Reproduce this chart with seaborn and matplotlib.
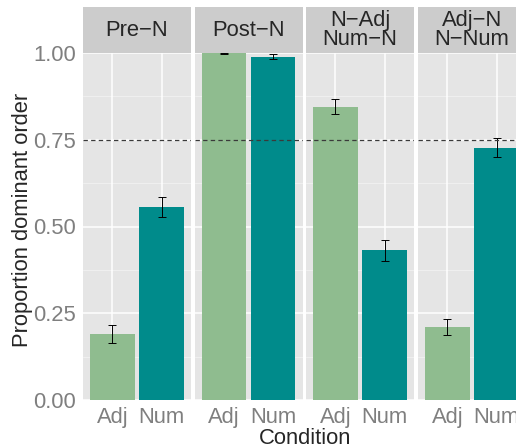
import numpy as np
import pandas as pd
import seaborn as sns
import matplotlib.pyplot as plt

conditions = ["Pre\u2212N", "Post\u2212N", "N\u2212Adj\nNum\u2212N", "Adj\u2212N\nN\u2212Num"]
types = ["Adj", "Num"]
adj_mean = [0.190, 0.999, 0.845, 0.210]
num_mean = [0.556, 0.989, 0.432, 0.727]
adj_se = [0.025, 0.001, 0.022, 0.024]
num_se = [0.030, 0.007, 0.030, 0.027]
yticks = [0.0, 0.25, 0.5, 0.75, 1.0]
ytick_labels = ["0.00", "0.25", "0.50", "0.75", "1.00"]
palette = {"Adj": "#8FBC8F", "Num": "#008B8B"}

sns.set_style("white")
plt.rcParams['font.family'] = ['Liberation Sans', 'DejaVu Sans']

W, H = 516, 446
fig = plt.figure(figsize=(W / 100, H / 100), dpi=100)

fs = 15.8
panel_left = [83, 194.5, 306, 418]
panel_w = 108
panel_bot, panel_top = 400, 53
strip_top = 7

for i, cond in enumerate(conditions):
    df = pd.DataFrame({"type": types,
                       "value": [adj_mean[i], num_mean[i]],
                       "se": [adj_se[i], num_se[i]]})
    ax = fig.add_axes([panel_left[i] / W, 1 - panel_bot / H,
                       panel_w / W, (panel_bot - panel_top) / H])
    ax.set_facecolor("#E5E5E5")
    for y in np.arange(0.125, 1.0, 0.25):
        ax.axhline(y, color="#F2F2F2", lw=0.6, zorder=0)
    for y in yticks:
        ax.axhline(y, color="white", lw=1.1, zorder=0)
    for x in range(2):
        ax.axvline(x, color="white", lw=1.1, zorder=0)

    sns.barplot(data=df, x="type", y="value", hue="type", palette=palette,
                errorbar=None, width=0.9, saturation=1, legend=False, ax=ax,
                edgecolor="none", linewidth=0, zorder=2)
    ax.errorbar(range(2), df["value"], yerr=df["se"], fmt="none",
                ecolor="black", elinewidth=0.7, capsize=2.9, capthick=0.7,
                zorder=3)
    ax.axhline(0.75, color="#3A3A3A", lw=0.9, ls=(0, (3.5, 2.6)), zorder=4)

    ax.set_xlim(-0.6, 1.6)
    ax.set_ylim(0, 1)
    ax.set_xlabel("")
    ax.set_ylabel("")
    for s in ax.spines.values():
        s.set_visible(False)
    ax.set_xticks(range(2))
    ax.set_xticklabels(types)
    ax.tick_params(axis="x", length=3.5, width=0.7, color="#7F7F7F",
                   labelcolor="#7F7F7F", labelsize=fs, pad=1.5)
    if i == 0:
        ax.set_yticks(yticks)
        ax.set_yticklabels(ytick_labels)
        ax.tick_params(axis="y", length=3.5, width=0.7, color="#7F7F7F",
                       labelcolor="#7F7F7F", labelsize=fs, pad=1.5)
    else:
        ax.set_yticks(yticks)
        ax.tick_params(axis="y", length=0, labelleft=False)

    sax = fig.add_axes([panel_left[i] / W, 1 - panel_top / H,
                        panel_w / W, (panel_top - strip_top) / H])
    sax.set_facecolor("#CCCCCC")
    sax.set_xticks([])
    sax.set_yticks([])
    for s in sax.spines.values():
        s.set_visible(False)
    sax.text(0.5, 0.5, cond, ha="center", va="center", fontsize=fs,
             linespacing=0.92, transform=sax.transAxes)

fig.text(22.5 / W, 1 - 220 / H, "Proportion dominant order", rotation=90,
         ha="center", va="center", fontsize=fs)
fig.text(305 / W, 1 - 444.5 / H, "Condition", ha="center", va="baseline",
         fontsize=fs)

fig.savefig("out.png", dpi=100, facecolor="white")
